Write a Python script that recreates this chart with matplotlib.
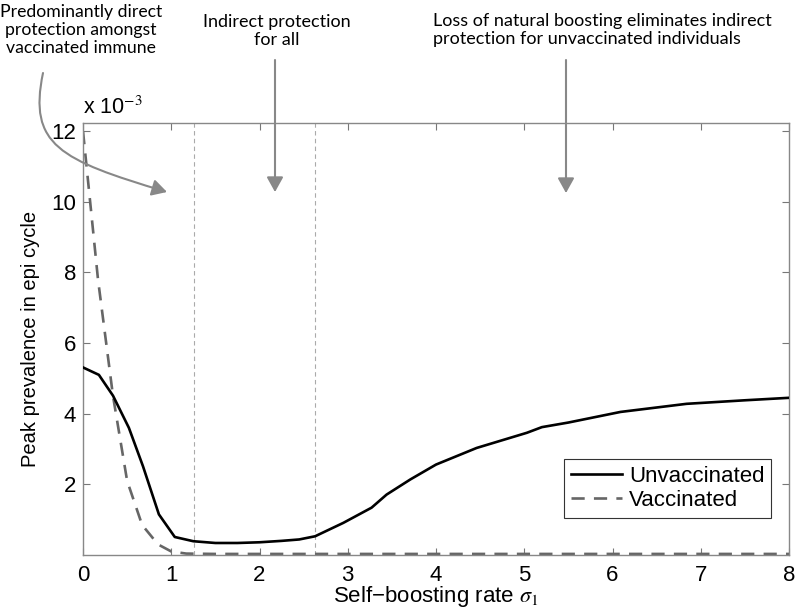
import matplotlib
matplotlib.use("Agg")
import matplotlib.pyplot as plt
from matplotlib.path import Path
from matplotlib.patches import FancyArrowPatch
import matplotlib.transforms as mtransforms

plt.rcParams['font.family'] = ['Liberation Sans', 'DejaVu Sans']
plt.rcParams['mathtext.fontset'] = 'stix'

# Data (values in units of 1e-3)
sigma_unvacc = [0, 0.18, 0.34, 0.52, 0.68, 0.86, 1.04, 1.25, 1.5, 1.75, 2.0, 2.25, 2.45,
                2.63, 2.95, 3.27, 3.44, 3.71, 4.0, 4.46, 5.03, 5.2, 5.5, 6.09, 6.84, 7.5, 8.0]
peak_unvacc_e3 = [5.31, 5.10, 4.51, 3.6, 2.51, 1.15, 0.51, 0.39, 0.34, 0.34, 0.36, 0.40, 0.44,
                  0.53, 0.91, 1.34, 1.71, 2.14, 2.56, 3.03, 3.46, 3.62, 3.75, 4.05, 4.28, 4.38, 4.45]
sigma_vacc = [0, 0.17, 0.34, 0.5, 0.67, 0.85, 1.0, 1.17, 1.5, 8.0]
peak_vacc_e3 = [12.0, 7.8, 4.5, 2.1, 0.85, 0.3, 0.1, 0.04, 0.03, 0.03]
region_bounds = [1.26, 2.63]
xticks = [0, 1, 2, 3, 4, 5, 6, 7, 8]
yticks = [2, 4, 6, 8, 10, 12]

W, H = 796, 611
fig = plt.figure(figsize=(W / 100, H / 100), dpi=100)
ax = fig.add_axes([83 / W, 1 - 555 / H, (789 - 83) / W, (555 - 123) / H])

for xb in region_bounds:
    ax.axvline(xb, color='#aaaaaa', lw=0.8, ls=(0, (4, 3)), zorder=1)

ax.plot(sigma_unvacc, peak_unvacc_e3, color='black', lw=1.9, label='Unvaccinated', zorder=3)
ax.plot(sigma_vacc, peak_vacc_e3, color='#666666', lw=1.9, ls=(0, (5, 3.5)),
        label='Vaccinated', zorder=2)

ax.set_xlim(0, 8)
ax.set_ylim(0, 12.23)
ax.set_xticks(xticks)
ax.set_yticks(yticks)
ax.tick_params(direction='in', length=5, width=0.8, color='#777777', labelsize=16,
               top=True, right=True, pad=5)
ax.tick_params(axis='x', pad=7)
for s in ax.spines.values():
    s.set_color('#888888')
    s.set_linewidth(1.0)

ax.set_xlabel('Self\u2212boosting rate $\\sigma_1$', fontsize=16, labelpad=-1)
ax.set_ylabel('Peak prevalence in epi cycle', fontsize=14.5, labelpad=8)
ax.text(0.0, 1.01, 'x 10$^{-3}$', transform=ax.transAxes, fontsize=15.5,
        ha='left', va='bottom')

leg = ax.legend(loc='upper right', bbox_to_anchor=(0.9745, 0.222), borderaxespad=0,
                fontsize=16, handlelength=2.3, handletextpad=0.3, fancybox=False,
                framealpha=1, edgecolor='#333333', borderpad=0.3, labelspacing=0.15)
leg.get_frame().set_linewidth(0.8)

# Figure-pixel transform (origin top-left)
pix = mtransforms.Affine2D().scale(1 / W, -1 / H).translate(0, 1) + fig.transFigure

ann_font = ['Lato', 'DejaVu Sans']
fig.text(81 / W, 1 - 30 / H, 'Predominantly direct\nprotection amongst\nvaccinated immune',
         ha='center', va='center', fontsize=12.7, family=ann_font, linespacing=1.15)
fig.text(277 / W, 1 - 31 / H, 'Indirect protection\nfor all',
         ha='center', va='center', fontsize=13, family=ann_font, linespacing=1.15)
fig.text(433 / W, 1 - 30 / H,
         'Loss of natural boosting eliminates indirect\nprotection for unvaccinated individuals',
         ha='left', va='center', fontsize=13, family=ann_font, linespacing=1.15)

acol = '#888888'
curve = Path([(43, 73), (28, 145), (60, 160), (167, 192)],
             [Path.MOVETO, Path.CURVE4, Path.CURVE4, Path.CURVE4])
for p in [curve,
          Path([(275, 60), (275, 192)]),
          Path([(566, 60), (566, 193)])]:
    arr = FancyArrowPatch(path=p, transform=pix, arrowstyle='-|>,head_length=9,head_width=5',
                          color=acol, lw=1.5, mutation_scale=1, zorder=10,
                          shrinkA=0, shrinkB=0)
    fig.add_artist(arr)

fig.savefig('out.png', dpi=100)
